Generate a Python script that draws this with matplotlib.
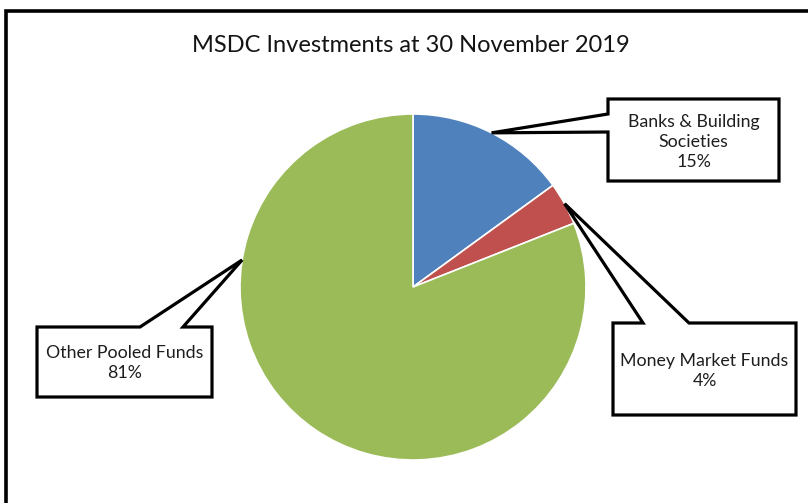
import matplotlib.pyplot as plt
import numpy as np
from matplotlib.patches import Polygon
from matplotlib.lines import Line2D

plt.rcParams['font.family'] = ['Lato', 'DejaVu Sans']

title = "MSDC Investments at 30 November 2019"
categories = ["Banks & Building\nSocieties", "Money Market Funds", "Other Pooled Funds"]
shares = [15, 4, 81]
colors = ["#4F81BD", "#C0504D", "#9BBB59"]

W, H = 808, 503
cx, cy, R = 413, 287, 173


def flip(pts):
    return [(x, H - y) for x, y in pts]


def callout(ax, box, side, base, tip, text, dy=0):
    x0, y0, x1, y1 = box
    a, b = base
    if side == 'left':
        pts = [(x0, y0), (x1, y0), (x1, y1), (x0, y1), (x0, b), tip, (x0, a)]
    else:
        pts = [(x0, y0), (a, y0), tip, (b, y0), (x1, y0), (x1, y1), (x0, y1)]
    ax.add_patch(Polygon(flip(pts), closed=True, facecolor='white',
                         edgecolor='black', linewidth=2.3, joinstyle='miter', zorder=5))
    ax.text((x0 + x1) / 2, H - (y0 + y1) / 2 - dy, text, ha='center', va='center',
            fontsize=12.8, color='#1e1e1e', linespacing=1.3, zorder=6)


def tip_at(angle):
    t = np.radians(angle)
    return (cx + R * np.cos(t), cy - R * np.sin(t))


fig = plt.figure(figsize=(W / 100, H / 100), dpi=100)
ax = fig.add_axes([0, 0, 1, 1])

ax.pie(shares, colors=colors, startangle=90, counterclock=False,
       center=(cx, H - cy), radius=R,
       wedgeprops=dict(edgecolor='white', linewidth=1.2))
ax.set_xlim(0, W)
ax.set_ylim(0, H)
ax.set_aspect('equal')
ax.axis('off')

# mid angles of the slices
cum = np.cumsum([0] + shares)
mids = [90 - 3.6 * (cum[i] + shares[i] / 2) for i in range(len(shares))]

labels = [f"{c}\n{s}%" for c, s in zip(categories, shares)]
callout(ax, (608, 99, 779, 181), 'left', (114, 132), tip_at(mids[0]), labels[0], dy=2)
callout(ax, (613, 323, 796, 415), 'top', (643, 689), tip_at(mids[1]), labels[1], dy=2)
callout(ax, (37, 327, 212, 397), 'top', (140, 183), tip_at(171), labels[2], dy=1)

ax.text(411, H - 45, title, ha='center', va='center', fontsize=17, color='#141414')

# outer frame (only top and left visible in the crop)
ax.add_line(Line2D([6, 6, W], [0, H - 11, H - 11], color='black', linewidth=2.6,
                   solid_joinstyle='miter'))

fig.savefig('out.png', dpi=100)
